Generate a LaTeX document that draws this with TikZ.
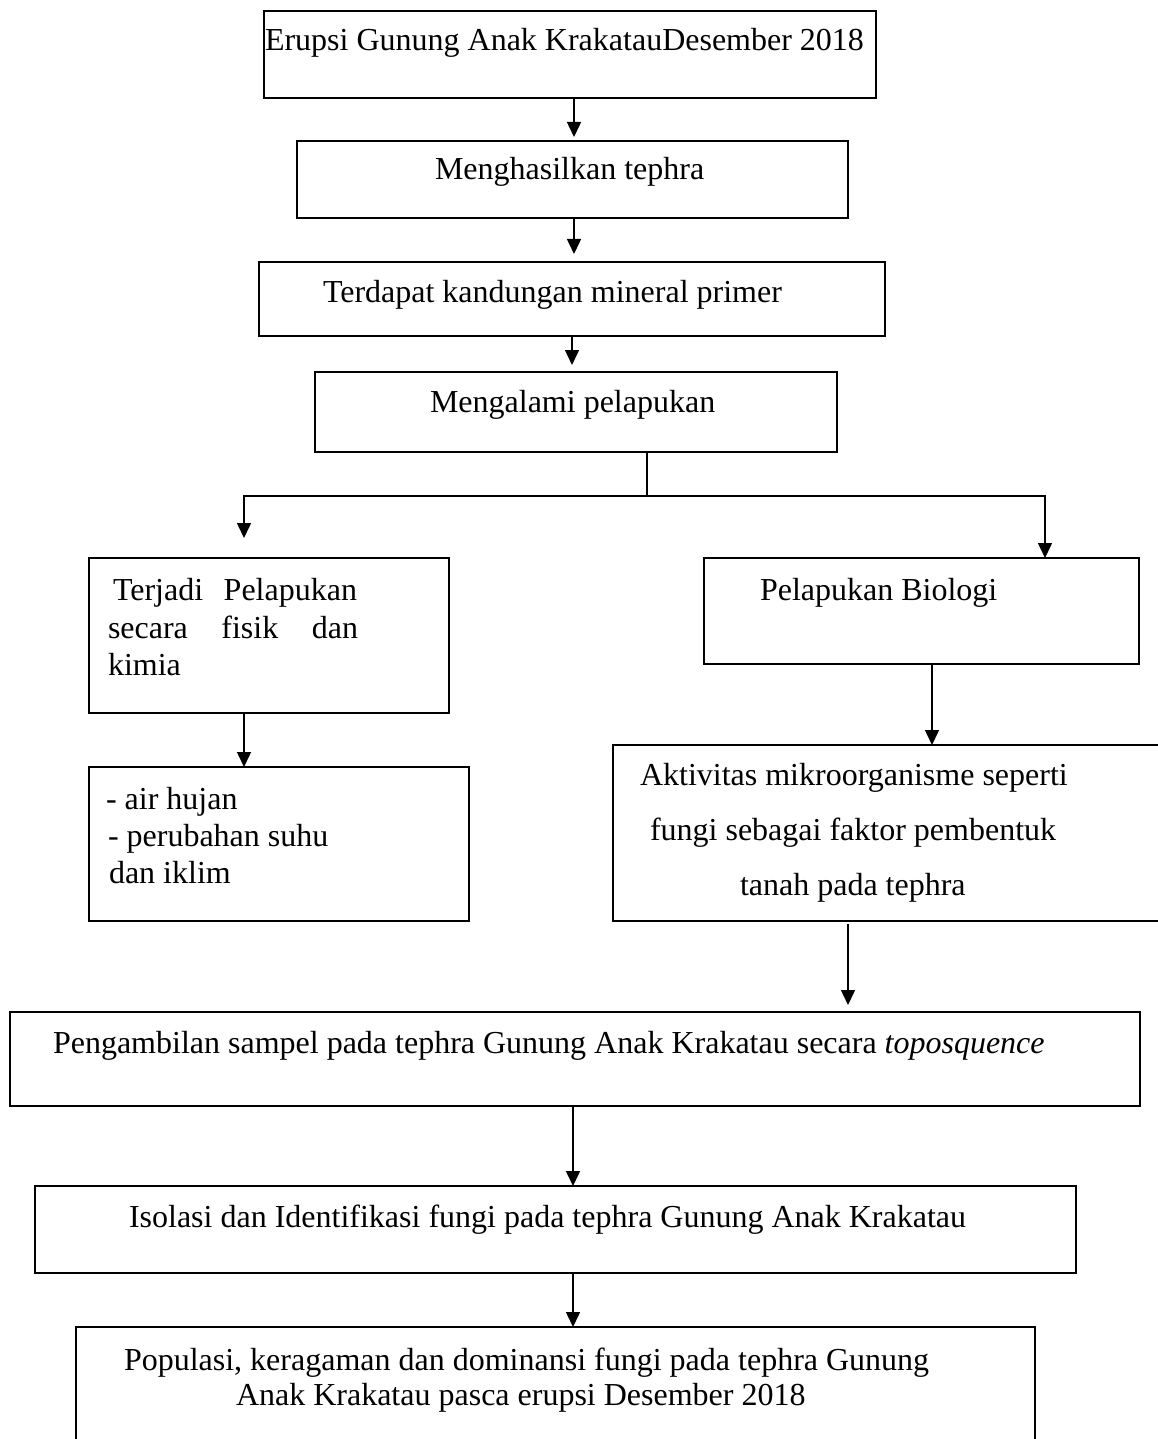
\documentclass[tikz,border=0pt]{standalone}
\usepackage{fontspec}
\setmainfont{Liberation Serif}
\usetikzlibrary{arrows.meta}
\begin{document}
\begin{tikzpicture}[x=1pt,y=-1pt,
  every node/.style={font=\fontsize{32pt}{38pt}\selectfont},
  box/.style={draw, line width=1.5pt, inner sep=0pt, outer sep=0pt},
  txt/.style={anchor=base west, inner sep=0pt, outer sep=0pt},
  ln/.style={line width=1.5pt},
  arr/.style={line width=1.5pt, -{Triangle[length=15pt,width=14pt]}}]
\useasboundingbox (0,0) rectangle (1157,1439);
% boxes
\node[box, minimum width=612pt, minimum height=87pt] (b1) at (570,54.5) {};
\node[box, minimum width=551pt, minimum height=77pt] (b2) at (572.5,179.5) {};
\node[box, minimum width=626pt, minimum height=74pt] (b3) at (572,299) {};
\node[box, minimum width=522pt, minimum height=80pt] (b4) at (576,412) {};
\node[box, minimum width=360pt, minimum height=155pt] (bl) at (269,635.5) {};
\node[box, minimum width=435pt, minimum height=106pt] (br) at (921.5,611) {};
\node[box, minimum width=380pt, minimum height=154pt] (bl2) at (279,844) {};
\node[box, minimum width=547pt, minimum height=176pt] (br2) at (886.5,833) {};
\node[box, minimum width=1130pt, minimum height=94pt] (b5) at (575,1059) {};
\node[box, minimum width=1041pt, minimum height=87pt] (b6) at (555.5,1229.5) {};
\node[box, minimum width=959pt, minimum height=118pt] (b7) at (555.5,1386) {};
% texts
\node[txt] (t1) at (265,51) {Erupsi Gunung Anak KrakatauDesember 2018};
\node[txt] (t2) at (435,180) {Menghasilkan tephra};
\node[txt] (t3) at (323,302) {Terdapat kandungan mineral primer};
\node[txt] (t4) at (430,412) {Mengalami pelapukan};
\node[txt] (tl1) at (113,600) {\makebox[244pt][s]{Terjadi Pelapukan}};
\node[txt] (tl2) at (108,638) {\makebox[250pt][s]{secara fisik dan}};
\node[txt] (tl3) at (108,675) {kimia};
\node[txt] (tr) at (760,600) {Pelapukan Biologi};
\node[txt] (tm1) at (106,809) {- air hujan};
\node[txt] (tm2) at (108,846) {- perubahan suhu};
\node[txt] (tm3) at (109,883) {dan iklim};
\node[txt] (ta1) at (640,785) {Aktivitas mikroorganisme seperti};
\node[txt] (ta2) at (650,840) {fungi sebagai faktor pembentuk};
\node[txt] (ta3) at (740,895) {tanah pada tephra};
\node[txt] (t5) at (53,1053) {Pengambilan sampel pada tephra Gunung Anak Krakatau secara \textit{toposquence}};
\node[txt] (t6) at (129,1227) {Isolasi dan Identifikasi fungi pada tephra Gunung Anak Krakatau};
\node[txt] (t7a) at (124,1370) {Populasi, keragaman dan dominansi fungi pada tephra Gunung};
\node[txt] (t7b) at (236,1405) {Anak Krakatau pasca erupsi Desember 2018};
% connectors
\coordinate (ax1) at (574,0);
\coordinate (ax3) at (572,0);
\coordinate (j) at (647,496);
\coordinate (jl) at (244,0);
\coordinate (jr) at (1045,0);
\coordinate (ax5) at (932,0);
\coordinate (ax6) at (848,0);
\coordinate (ax7) at (573,0);
\draw[arr, shorten >=4pt] (b1.south -| ax1) -- (b2.north -| ax1);
\draw[arr, shorten >=8pt] (b2.south -| ax1) -- (b3.north -| ax1);
\draw[arr, shorten >=7pt] (b3.south -| ax3) -- (b4.north -| ax3);
\draw[ln] (b4.south -| j) -- (j);
\draw[arr, shorten >=20pt] (j) -| (bl.north -| jl);
\draw[arr] (j) -| (br.north -| jr);
\draw[arr] (bl.south -| jl) -- (bl2.north -| jl);
\draw[arr] (br.south -| ax5) -- (br2.north -| ax5);
\draw[arr, shorten <=3pt, shorten >=7pt] (br2.south -| ax6) -- (b5.north -| ax6);
\draw[arr] (b5.south -| ax7) -- (b6.north -| ax7);
\draw[arr] (b6.south -| ax7) -- (b7.north -| ax7);
\end{tikzpicture}
\end{document}
